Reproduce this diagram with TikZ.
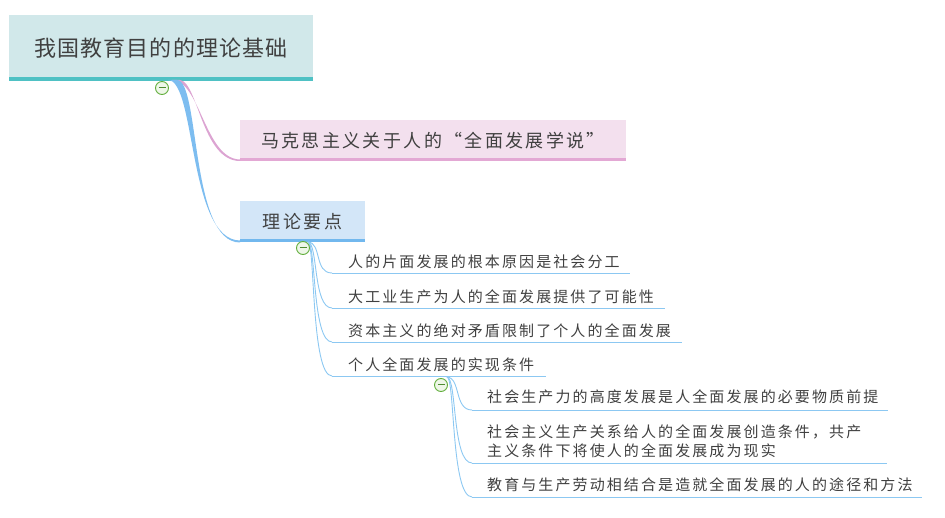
\documentclass[tikz,border=0pt]{standalone}
\usepackage{fontspec}
\setmainfont{Noto Sans CJK SC}
\newfontfamily\cjkroot[LetterSpace=5]{Noto Sans CJK SC}
\newfontfamily\cjkmid[LetterSpace=13]{Noto Sans CJK SC}
\newfontfamily\cjksmall[LetterSpace=14]{Noto Sans CJK SC}
\definecolor{rootfill}{HTML}{D1E8EA}
\definecolor{rootbar}{HTML}{4FC1C4}
\definecolor{pinkfill}{HTML}{F3E0EE}
\definecolor{pinkbar}{HTML}{E3A8D4}
\definecolor{pinkline}{HTML}{DCA4D2}
\definecolor{bluefill}{HTML}{D3E6F8}
\definecolor{bluebar}{HTML}{72B8EE}
\definecolor{blueline}{HTML}{7DBDF0}
\definecolor{subline}{HTML}{8CC8F2}
\definecolor{txt}{HTML}{404040}
\definecolor{circfill}{HTML}{EEF7E8}
\definecolor{circdraw}{HTML}{62AE3C}
\tikzset{
  topicbox/.style={rectangle, inner sep=0pt, text=txt},
  leaf/.style={anchor=west, inner sep=0pt, text=txt, font=\cjksmall\fontsize{15pt}{19pt}\selectfont, align=left},
  uline/.style={draw=subline, line width=0.9pt},
  conn/.style={draw=subline, line width=0.9pt},
  collapse/.style={circle, draw=circdraw, fill=circfill, line width=0.9pt, minimum size=13pt, inner sep=0pt},
}
\begin{document}
\begin{tikzpicture}[x=1pt,y=-1pt]
\useasboundingbox (0,0) rectangle (945,518);
% root
\node[topicbox, fill=rootfill, minimum width=304pt, minimum height=66pt, font=\cjkroot\fontsize{22pt}{24pt}\selectfont] (root) at (161,48) {我国教育目的的理论基础};
\fill[rootbar] ([yshift=4pt]root.south west) rectangle (root.south east);
% level 1
\node[topicbox, fill=pinkfill, minimum width=386pt, minimum height=41pt, font=\cjkmid\fontsize{18pt}{20pt}\selectfont] (marx) at (433,140.5) {马克思主义关于人的“全面发展学说”};
\fill[pinkbar] ([yshift=3.5pt]marx.south west) rectangle (marx.south east);
\node[topicbox, fill=bluefill, minimum width=125pt, minimum height=41pt, font=\cjkmid\fontsize{18pt}{20pt}\selectfont] (pts) at (302.5,221.5) {理论要点};
\fill[bluebar] ([yshift=3.5pt]pts.south west) rectangle (pts.south east);
% root connectors (tapered)
\coordinate (rs) at (168,80);
\coordinate (pe) at (240,159.5);
\coordinate (be) at (240,240.5);
\fill[pinkline] (172,80) .. controls (200,80) and (205,159) .. (pe) -- (240,161) .. controls (202,161) and (198,82) .. (180,80) -- cycle;
\fill[blueline] (rs) .. controls (196,80) and (188,240) .. (be) -- (240,242.5) .. controls (190,242.5) and (200,80) .. (177,80) -- cycle;
\node[collapse] (c0) at (162,88) {};
\draw[circdraw!80!black, line width=1pt] ([xshift=-3.5pt]c0.center) -- ([xshift=3.5pt]c0.center);
% level 2 leaves
\coordinate (k1) at (308,242);
\node[leaf] (a1) at (348,262) {人的片面发展的根本原因是社会分工};
\node[leaf] (a2) at (348,297) {大工业生产为人的全面发展提供了可能性};
\node[leaf] (a3) at (348,331) {资本主义的绝对矛盾限制了个人的全面发展};
\node[leaf] (a4) at (348,365) {个人全面发展的实现条件};
\coordinate (u1s) at (332,273); \coordinate (u1e) at (630,273);
\coordinate (u2s) at (332,308); \coordinate (u2e) at (665,308);
\coordinate (u3s) at (332,342); \coordinate (u3e) at (682,342);
\coordinate (u4s) at (332,376); \coordinate (u4e) at (546,376);
\foreach \i in {1,2,3,4}{
  \draw[uline] (u\i s) -- (u\i e);
}
\draw[conn] (k1) .. controls (322,243) and (314,273) .. (u1s);
\draw[conn] (k1) .. controls (318,243) and (313,308) .. (u2s);
\draw[conn] (k1) .. controls (316,243) and (312,342) .. (u3s);
\draw[conn] (k1) .. controls (315,243) and (311,376) .. (u4s);
\node[collapse] (c1) at (303,248) {};
\draw[circdraw!80!black, line width=1pt] ([xshift=-3.5pt]c1.center) -- ([xshift=3.5pt]c1.center);
% level 3 leaves
\coordinate (k2) at (447,377);
\node[leaf] (b1) at (487,397) {社会生产力的高度发展是人全面发展的必要物质前提};
\node[leaf] (b2) at (487,441.5) {社会主义生产关系给人的全面发展创造条件，共产\\主义条件下将使人的全面发展成为现实};
\node[leaf] (b3) at (487,485) {教育与生产劳动相结合是造就全面发展的人的途径和方法};
\coordinate (v1s) at (472,410); \coordinate (v1e) at (888,410);
\coordinate (v2s) at (472,463); \coordinate (v2e) at (887,463);
\coordinate (v3s) at (472,497); \coordinate (v3e) at (922,497);
\foreach \i in {1,2,3}{
  \draw[uline] (v\i s) -- (v\i e);
}
\draw[conn] (k2) .. controls (461,378) and (454,410) .. (v1s);
\draw[conn] (k2) .. controls (457,378) and (452,463) .. (v2s);
\draw[conn] (k2) .. controls (455,378) and (451,497) .. (v3s);
\node[collapse] (c2) at (441,385) {};
\draw[circdraw!80!black, line width=1pt] ([xshift=-3.5pt]c2.center) -- ([xshift=3.5pt]c2.center);
\end{tikzpicture}
\end{document}
